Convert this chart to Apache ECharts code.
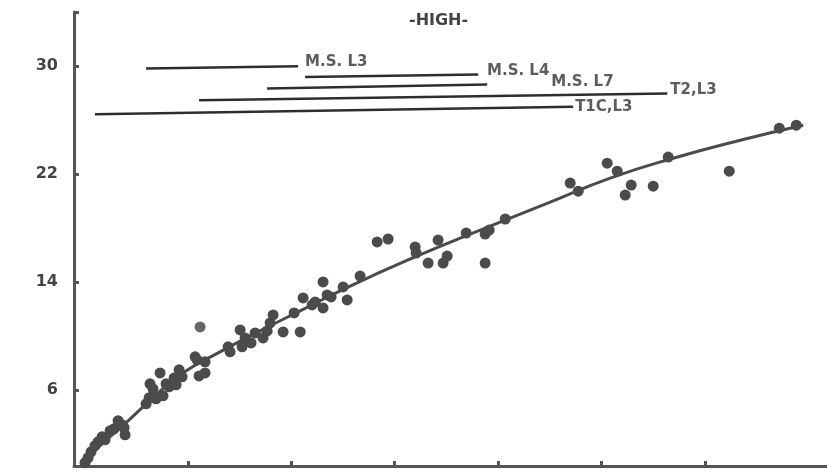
<!DOCTYPE html>
<html>
<head>
<meta charset="utf-8">
<script src="https://cdn.jsdelivr.net/npm/echarts@6/dist/echarts.min.js"></script>
<style>
html,body{margin:0;padding:0;background:#fff;}
#chart{width:827px;height:472px;}
</style>
</head>
<body>
<div id="chart"></div>
<script>
// Y tick labels
var yTicks = [6, 14, 22, 30];
var xTicks = [10, 20, 30, 40, 50, 60];

// Observed points
var ptX = [0.07,0.36,0.65,1.03,1.32,1.71,2.0,2.49,2.87,3.26,3.65,3.94,3.84,
  5.97,6.26,6.35,6.64,6.93,7.32,7.61,7.9,8.19,8.68,8.87,9.16,9.45,
  10.71,10.9,11.09,11.67,11.67,
  13.9,14.09,15.06,15.25,15.54,16.12,16.51,17.28,17.67,17.96,18.25,19.22,20.28,20.87,
  21.15,22.02,22.31,23.08,23.08,23.47,23.86,25.02,25.41,26.66,28.31,29.37,
  31.98,32.08,33.24,34.2,34.69,35.08,36.92,38.75,39.14,38.75,40.69,
  46.97,47.75,50.55,51.52,52.87,52.29,55.0,56.45,62.35,67.19,68.83];
var ptY = [0.64,1.01,1.45,1.90,2.19,2.56,2.34,3.01,3.15,3.75,3.45,2.71,3.23,
  5.00,5.45,6.48,6.11,5.37,7.29,5.59,6.48,6.26,6.92,6.41,7.52,7.00,
  8.48,8.25,7.07,7.29,8.11,
  9.22,8.85,10.47,9.22,9.88,9.51,10.25,9.88,10.40,10.99,11.58,10.32,11.73,10.32,
  12.84,12.32,12.54,12.10,14.02,13.06,12.91,13.65,12.69,14.46,16.98,17.20,
  16.61,16.16,15.42,17.12,15.42,15.94,17.64,17.57,17.86,15.42,18.68,
  21.34,20.74,22.81,22.22,21.19,20.45,21.11,23.26,22.22,25.40,25.62];
// Outlier (lighter dot)
var outX = [11.19];
var outY = [10.69];

// Fitted curve
var curveX = [-0.3,1.52,4.13,6.64,9.25,13.12,16.99,20.86,25.7,31.98,38.27,45.04,50.84,56.93,63.41,69.5];
var curveY = [0.45,1.90,3.67,5.45,7.15,8.85,10.40,11.88,13.72,15.87,17.86,19.93,21.71,23.18,24.51,25.62];

// Reference lines
var refNames = ['M.S. L3','M.S. L4','M.S. L7','T2,L3','T1C,L3'];
var refX0 = [5.97, 21.34, 17.67, 11.09, 1.03];
var refY0 = [29.81, 29.19, 28.34, 27.47, 26.44];
var refX1 = [20.67, 38.08, 38.95, 56.36, 47.26];
var refY1 = [29.98, 29.37, 28.63, 27.97, 26.98];
// Label anchors
var labX = [21.34, 38.93, 45.14, 56.65, 47.45];
var labY = [30.28, 29.61, 28.80, 28.21, 26.95];

var ink = '#4b4b4b';
var series = [];
series.push({
  type:'line', smooth:0.5, showSymbol:false, silent:true,
  data: curveX.map(function(x,i){return [x, curveY[i]];}),
  lineStyle:{color:ink, width:3}, z:3
});
series.push({
  type:'scatter', symbolSize:11, silent:true,
  data: ptX.map(function(x,i){return [x, ptY[i]];}),
  itemStyle:{color:ink, opacity:1}, z:4
});
series.push({
  type:'scatter', symbolSize:11, silent:true,
  data: outX.map(function(x,i){return [x, outY[i]];}),
  itemStyle:{color:'#666666', opacity:1}, z:4
});
for (var i=0;i<refNames.length;i++){
  series.push({
    type:'line', showSymbol:false, silent:true,
    data:[[refX0[i],refY0[i]],[refX1[i],refY1[i]]],
    lineStyle:{color:'#2e2e2e', width:2.5}, z:2
  });
}
series.push({
  type:'scatter', symbolSize:0, silent:true,
  data: refNames.map(function(n,i){return {name:n, value:[labX[i], labY[i]]};}),
  label:{show:true, position:'right', distance:0, formatter:'{b}',
    color:'#333333', fontSize:15, fontWeight:'bold', fontFamily:'DejaVu Sans'},
  z:5
});

var chart = echarts.init(document.getElementById('chart'), null, {renderer:'canvas'});
chart.setOption({
  animation:false,
  backgroundColor:'#ffffff',
  title:{text:'-HIGH-', left:404, top:8,
    textStyle:{color:'#444', fontSize:16, fontWeight:'bold', fontFamily:'DejaVu Sans'}},
  grid:{left:74, right:0, top:12, bottom:6, containLabel:false},
  xAxis:{type:'value', min:-1, max:71.8,
    axisLine:{show:true, onZero:false, lineStyle:{color:'#555', width:3}},
    axisTick:{show:true, inside:true, length:5, customValues:xTicks, lineStyle:{color:'#555', width:3}},
    axisLabel:{show:false}, splitLine:{show:false}},
  yAxis:{type:'value', min:0.4, max:34,
    axisLine:{show:true, onZero:false, lineStyle:{color:'#555', width:3}},
    axisTick:{show:true, inside:true, length:5, customValues:yTicks.concat([34]), lineStyle:{color:'#555', width:3}},
    axisLabel:{show:true, customValues:yTicks, margin:16, color:'#444', fontSize:16, fontWeight:'bold', fontFamily:'DejaVu Sans'},
    splitLine:{show:false}},
  series:series
});
</script>
</body>
</html>
